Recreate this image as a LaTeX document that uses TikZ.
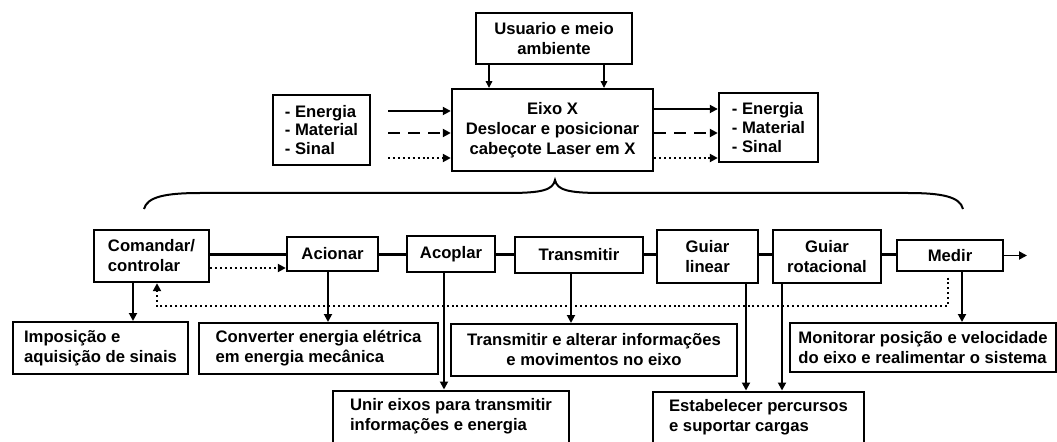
\documentclass[tikz,border=0pt]{standalone}
\usepackage{fontspec}
\setmainfont{Liberation Sans}
\usetikzlibrary{arrows.meta,calc}
\begin{document}
\begin{tikzpicture}[x=0.75pt,y=-0.75pt,
  font=\bfseries\fontsize{12.5}{15}\selectfont,
  wh/.style 2 args={minimum width={#1*0.75pt}, minimum height={#2*0.75pt}},
  box/.style={draw, line width=1.8pt, inner sep=0pt, align=center},
  lbox/.style={draw, line width=1.8pt, inner sep=0pt, align=left},
  dbox/.style={draw, line width=1.5pt, inner sep=0pt, align=left},
  cbox/.style={draw, line width=1.5pt, inner xsep=0pt, inner ysep=6pt, align=left, anchor=north},
  tip/.style={-{Triangle[length=6pt,width=6pt]}},
  arr/.style={line width=1.4pt, tip},
  thinarr/.style={line width=0.8pt, -{Triangle[length=5pt,width=5pt]}},
  dotarr/.style={line width=1.5pt, dash pattern=on 1.5pt off 2.2pt, tip},
  dasharr/.style={line width=1.5pt, dash pattern=on 9pt off 6pt, tip},
  chain/.style={line width=1.6pt}
]
\clip (0,0) rectangle (1057,442);

% ---- top part
\node[box, wh={156}{51}] (usr) at (554,38.5) {Usuario e meio\\ambiente};
\node[box, wh={201}{82}] (eixo) at (552.5,130) {Eixo X\\Deslocar e posicionar\\cabeçote Laser em X};
\node[lbox, wh={97}{70}, font=\bfseries\fontsize{12.5}{14}\selectfont] (inL) at (321.5,130) {- Energia\\- Material\\- Sinal};
\node[lbox, wh={99}{69}, font=\bfseries\fontsize{12.5}{14}\selectfont] (inR) at (768.5,127.5) {- Energia\\- Material\\- Sinal};

\coordinate (ux1) at (489,0);
\coordinate (ux2) at (604,0);
\draw[thinarr] (usr.south -| ux1) -- (eixo.north -| ux1);
\draw[thinarr] (usr.south -| ux2) -- (eixo.north -| ux2);

\coordinate (istart) at (388,0);
\coordinate (iy1) at (0,111);
\coordinate (iy2) at (0,133);
\coordinate (iy3) at (0,158);
\draw[arr] (istart |- iy1) -- (eixo.west |- iy1);
\draw[dasharr] (istart |- iy2) -- (eixo.west |- iy2);
\draw[dotarr] (istart |- iy3) -- (eixo.west |- iy3);

\coordinate (oy1) at (0,109);
\coordinate (oy2) at (0,133);
\coordinate (oy3) at (0,158);
\draw[arr] (eixo.east |- oy1) -- (inR.west |- oy1);
\draw[dasharr] (eixo.east |- oy2) -- (inR.west |- oy2);
\draw[dotarr] (eixo.east |- oy3) -- (inR.west |- oy3);

% brace
\draw[line width=1.5pt] (144,209) .. controls (147,197) and (165,193) .. (200,193)
  -- (508,193) .. controls (542,193) and (553,190) .. (555,180)
  .. controls (557,190) and (568,193) .. (602,193)
  -- (908,193) .. controls (943,193) and (960,197) .. (963,209);

% ---- function chain
\node[lbox, wh={115}{52}] (com) at (151.5,256) {Comandar/\\controlar};
\node[box, wh={91}{34}] (aci) at (332.5,254) {Acionar};
\node[box, wh={88}{36}] (aco) at (451,254) {Acoplar};
\node[box, wh={128}{36}] (tra) at (579,255) {Transmitir};
\node[box, wh={101}{53}] (gl) at (707.5,256.5) {Guiar\\linear};
\node[box, wh={108}{53}] (gr) at (827,256.5) {Guiar\\rotacional};
\node[box, wh={106}{31}] (med) at (950,255.5) {Medir};

\coordinate (cy) at (0,254.5);
\draw[chain] (com.east |- cy) -- (aci.west |- cy);
\draw[chain] (aci.east |- cy) -- (aco.west |- cy);
\draw[chain] (aco.east |- cy) -- (tra.west |- cy);
\draw[chain] (tra.east |- cy) -- (gl.west |- cy);
\draw[chain] (gl.east |- cy) -- (gr.west |- cy);
\draw[chain] (gr.east |- cy) -- (med.west |- cy);
\coordinate (out) at (1027,255.5);
\draw[arr] (med.east |- out) -- (out);

\coordinate (dy) at (0,268);
\draw[dotarr] (com.east |- dy) -- (aci.west |- dy);

\coordinate (fbx) at (948,0);
\coordinate (fbx2) at (157,0);
\coordinate (fby) at (0,306);
\draw[dotarr, shorten <=4pt] (med.south -| fbx) -- (fbx |- fby) -- (fbx2 |- fby) -- (com.south -| fbx2);

% ---- descriptions
\node[dbox, wh={175}{52}] (d1) at (100.5,348) {Imposição e\\aquisição de sinais};
\node[dbox, wh={239}{51}] (d2) at (318.5,348.5) {Converter energia elétrica\\em energia mecânica};
\node[dbox, align=center, wh={286}{52}] (d3) at (594,350) {Transmitir e alterar informações\\e movimentos no eixo};
\node[dbox, wh={266}{49}] (d6) at (923,347.5) {Monitorar posição e velocidade\\do eixo e realimentar o sistema};
\node[cbox, minimum width={236*0.75pt}] (d4) at (451,389.5) {Unir eixos para transmitir\\informações e energia\\ \mbox{}\\ \mbox{}};
\node[cbox, minimum width={211*0.75pt}] (d5) at (758.5,390.5) {Estabelecer percursos\\e suportar cargas\\ \mbox{}\\ \mbox{}};

\coordinate (xa1) at (133,0);
\coordinate (xa2) at (328,0);
\coordinate (xa3) at (444,0);
\coordinate (xa4) at (571,0);
\coordinate (xa5) at (746,0);
\coordinate (xa6) at (782,0);
\coordinate (xa7) at (962,0);
\draw[arr] (com.south -| xa1) -- (d1.north -| xa1);
\draw[arr] (aci.south -| xa2) -- (d2.north -| xa2);
\draw[arr] (aco.south -| xa3) -- (d4.north -| xa3);
\draw[arr] (tra.south -| xa4) -- (d3.north -| xa4);
\draw[arr] (gl.south -| xa5) -- (d5.north -| xa5);
\draw[arr] (gr.south -| xa6) -- (d5.north -| xa6);
\draw[arr] (med.south -| xa7) -- (d6.north -| xa7);
\end{tikzpicture}
\end{document}
